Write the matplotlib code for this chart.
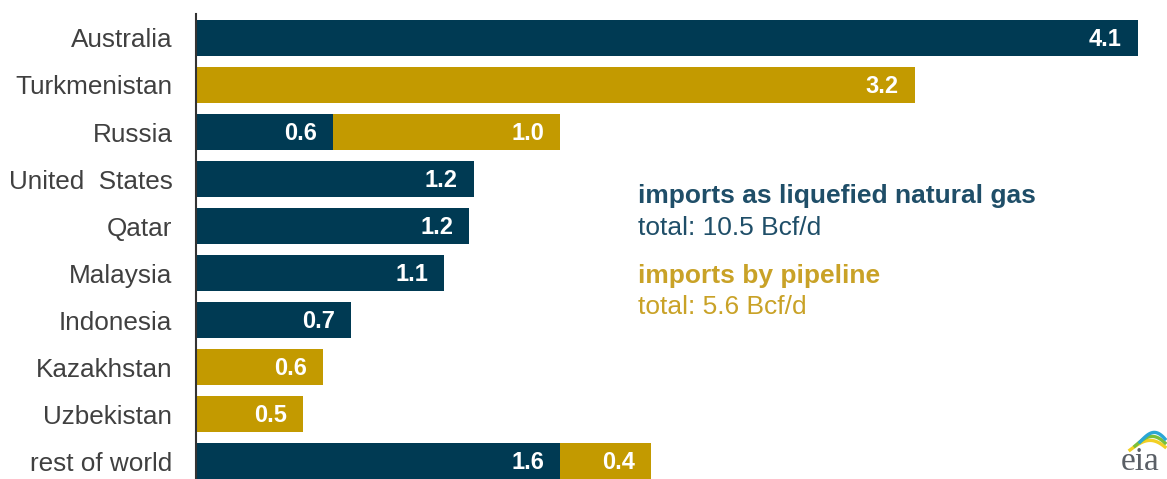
import matplotlib
matplotlib.use("Agg")
import matplotlib.pyplot as plt
import numpy as np

plt.rcParams['font.family'] = ['Liberation Sans', 'DejaVu Sans']

countries = ["Australia", "Turkmenistan", "Russia", "United  States", "Qatar",
             "Malaysia", "Indonesia", "Kazakhstan", "Uzbekistan", "rest of world"]
lng = [4.14, 0.0, 0.60, 1.22, 1.20, 1.09, 0.68, 0.0, 0.0, 1.60]
pipeline = [0.0, 3.16, 1.00, 0.0, 0.0, 0.0, 0.0, 0.56, 0.47, 0.40]
lng_labels = ["4.1", "", "0.6", "1.2", "1.2", "1.1", "0.7", "", "", "1.6"]
pipe_labels = ["", "3.2", "1.0", "", "", "", "", "0.6", "0.5", "0.4"]

LNG_C = "#003A53"
PIPE_C = "#C39A00"
LNG_TXT = "#1F4E68"
PIPE_TXT = "#C9A227"

W, H = 1167, 479
fig = plt.figure(figsize=(W / 100, H / 100), dpi=100)
ax = fig.add_axes([196 / W, 0, (W - 196) / W, 465 / H])

y = np.arange(len(countries))
ax.barh(y, lng, height=0.76, color=LNG_C)
ax.barh(y, pipeline, left=lng, height=0.76, color=PIPE_C)

for i in range(len(countries)):
    if lng_labels[i]:
        ax.text(lng[i] - 0.07, i + 0.03, lng_labels[i], ha="right", va="center",
                color="white", fontsize=17, fontweight="bold")
    if pipe_labels[i]:
        ax.text(lng[i] + pipeline[i] - 0.07, i + 0.03, pipe_labels[i], ha="right",
                va="center", color="white", fontsize=17, fontweight="bold")

ax.set_xlim(0, (W - 196) / 227.5)
ax.set_ylim(9.38, -0.51)
ax.set_yticks(y)
ax.set_yticklabels(countries, fontsize=18.8, color="#404040")
ax.tick_params(axis="y", length=0, pad=17)
ax.set_xticks([])
for s in ["top", "right", "bottom"]:
    ax.spines[s].set_visible(False)
ax.spines["left"].set_color("#333333")
ax.spines["left"].set_linewidth(1.5)

def fx(px):
    return px / W

def fy(py):
    return 1 - py / H

fig.text(fx(638), fy(196), "imports as liquefied natural gas", color=LNG_TXT,
         fontsize=19, fontweight="bold", va="center", ha="left")
fig.text(fx(638), fy(228), "total: 10.5 Bcf/d", color=LNG_TXT,
         fontsize=19, va="center", ha="left")
fig.text(fx(638), fy(276), "imports by pipeline", color=PIPE_TXT,
         fontsize=19, fontweight="bold", va="center", ha="left")
fig.text(fx(638), fy(307), "total: 5.6 Bcf/d", color=PIPE_TXT,
         fontsize=19, va="center", ha="left")

# eia logo
fig.text(fx(1121), fy(477), "eia", color="#5a5f66", fontsize=24,
         family=["Liberation Serif", "DejaVu Serif"], va="bottom", ha="left")
t = np.linspace(0, 1, 30)
for k, c in enumerate(["#F2D024", "#7BBF3A", "#2AA6D6"]):
    xs = fx(1130 + 5 * k) + t * fx(35 - 5 * k)
    ys = fy(450 - 4 * k) + np.sin(t * np.pi * 0.8) * (12 / H) - t * (4 / H)
    fig.add_artist(plt.Line2D(xs, ys, color=c, lw=2.4, transform=fig.transFigure))

fig.savefig("out.png", dpi=100)
